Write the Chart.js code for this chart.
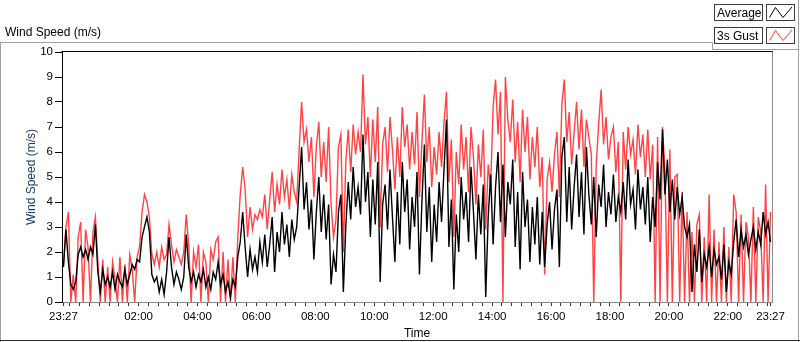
<!DOCTYPE html>
<html>
<head>
<meta charset="utf-8">
<title>Wind Speed</title>
<script src="https://cdn.jsdelivr.net/npm/chart.js@4.4.1/dist/chart.umd.min.js"></script>
<style>
  html, body { margin: 0; padding: 0; background: #fff; }
  #wrap { position: relative; width: 800px; height: 342px; }
</style>
</head>
<body>
<div id="wrap"><canvas id="windChart"></canvas></div>
<script>
// x axis is minutes since the 23:27 start, one reading every 5 minutes
const START_CLOCK = 23 * 60 + 27;
const STEP_MIN = 5;
const SPAN_MIN = 1440;

const AVERAGE = [
  1.4, 2.9, 1.6, 0.7, 0.5, 0.8, 1.9, 2.2,
  1.8, 2.1, 1.7, 2.2, 1.9, 3.1, 1.2, 0.4,
  1.3, 0.7, 1.0, 0.6, 1.2, 0.5, 1.1, 0.8,
  0.6, 1.3, 0.7, 1.1, 1.5, 1.3, 1.7, 1.6,
  2.6, 3.0, 3.4, 2.8, 1.1, 0.8, 1.0, 0.4,
  0.9, 0.3, 1.2, 2.6, 1.4, 0.7, 1.2, 0.9,
  0.5, 1.0, 2.7, 1.4, 0.8, 1.2, 0.6, 1.1,
  0.8, 1.3, 0.6, 1.0, 0.5, 1.2, 0.9, 1.6,
  0.7, 1.1, 0.4, 0.8, 0.2, 0.9, 0.6, 1.8,
  2.4, 3.6, 2.2, 1.0, 2.1, 1.3, 1.8, 1.2,
  2.4, 1.6, 2.7, 1.4, 2.3, 3.4, 1.2, 2.8,
  2.0, 3.6, 2.3, 3.1, 1.8, 3.3, 2.5, 3.0,
  4.6, 6.2, 3.7, 4.8, 2.9, 4.1, 1.7, 3.6,
  5.0, 2.8, 4.3, 2.5, 3.9, 0.7, 1.9, 1.2,
  3.6, 4.3, 0.4, 3.0, 4.8, 3.3, 5.4, 3.8,
  4.6, 3.5, 6.7, 4.0, 5.2, 2.6, 4.9, 3.1,
  5.6, 0.8, 3.9, 4.7, 2.9, 5.3, 3.4, 1.6,
  4.4, 2.3, 5.6, 3.6, 4.9, 2.1, 4.2, 3.0,
  5.2, 1.1, 4.0, 6.3, 2.8, 4.6, 1.6, 3.9,
  2.4, 4.8, 3.2, 5.3, 7.3, 2.2, 4.1, 0.5,
  3.5, 2.0, 5.0, 3.3, 4.4, 2.4, 5.4, 3.6,
  1.7, 4.3, 2.7, 4.7, 0.2, 3.4, 5.1, 2.3,
  4.6, 6.0, 3.2, 5.5, 2.6, 4.8, 3.9, 5.7,
  2.2, 4.4, 1.3, 5.2, 3.0, 4.1, 1.6, 3.8,
  2.3, 4.2, 1.5, 3.6, 1.4, 3.1, 4.0, 2.1,
  3.7, 4.5, 1.4, 5.8, 6.6, 3.2, 5.4, 2.9,
  4.6, 5.9, 3.4, 5.2, 2.7, 6.2, 4.3, 3.1,
  5.0, 2.6, 4.7, 3.8, 5.5, 3.0, 4.4, 3.5,
  5.1, 3.2, 4.2, 3.6, 4.8, 3.3, 5.7, 3.9,
  4.5, 2.9, 5.3, 3.7, 4.6, 3.1, 5.0, 2.4,
  4.2, 3.0, 5.6, 4.1, 6.9, 4.3, 5.7, 3.6,
  4.9, 3.3, 4.6, 3.5, 4.2, 3.0, 2.6, 3.1,
  0.4, 2.3, 1.2, 2.9, 0.8, 1.9, 1.4, 2.2,
  1.0, 2.1, 1.5, 1.8, 0.9, 2.3, 0.4, 1.6,
  1.1, 2.4, 3.3, 1.8, 2.9, 2.2, 2.7, 1.9,
  2.5, 3.0, 2.1, 2.8, 2.3, 3.6, 2.7, 3.2, 2.4
];

const GUST = [
  1.5, 3.0, 3.6, 0, 1.1, 0, 2.6, 3.2,
  0, 2.9, 2.2, 0, 2.8, 3.4, 1.6, 0,
  1.7, 0, 1.4, 0, 1.6, 0.9, 0, 1.8,
  0, 1.5, 0, 1.9, 1.3, 0, 1.8, 2.2,
  3.6, 4.3, 4.0, 3.4, 1.9, 1.5, 2.0, 1.4,
  2.2, 1.7, 1.9, 3.1, 2.3, 1.6, 2.1, 1.8,
  1.5, 2.0, 3.5, 2.3, 0, 2.0, 1.4, 2.3,
  0, 2.0, 1.6, 0, 2.1, 1.7, 2.4, 2.6,
  0, 2.0, 0, 1.7, 0, 1.8, 0, 2.6,
  4.3, 5.4, 4.5, 2.6, 3.8, 2.9, 3.5, 3.3,
  3.7, 3.4, 4.3, 2.9, 4.1, 5.2, 3.6, 4.7,
  3.9, 5.3, 4.2, 4.9, 3.7, 5.1, 4.4, 4.0,
  6.1, 8.0, 6.4, 6.9, 5.6, 6.6, 4.2, 6.2,
  7.2, 5.0, 6.4, 4.8, 7.0, 3.9, 2.6, 3.3,
  6.2, 6.7, 2.0, 5.6, 6.9, 5.2, 7.1, 5.9,
  6.8, 6.0, 9.1, 6.3, 7.4, 5.0, 7.3, 5.6,
  7.8, 3.0, 6.3, 7.0, 5.2, 7.4, 6.1, 4.5,
  6.6, 5.0, 7.8, 6.2, 7.1, 5.3, 6.8, 5.5,
  7.6, 4.2, 6.4, 8.3, 5.6, 7.0, 4.6, 6.2,
  5.1, 6.8, 5.4, 7.2, 8.4, 4.8, 6.5, 2.6,
  6.0, 4.7, 7.1, 5.3, 6.6, 4.4, 7.0, 5.8,
  3.9, 6.3, 5.0, 6.9, 2.9, 5.5, 4.6, 7.8,
  8.9, 6.7, 8.4, 0, 9.0, 7.3, 6.4, 8.1,
  5.6, 7.2, 4.8, 7.7, 6.0, 7.4, 4.9, 6.6,
  5.4, 7.0, 4.6, 5.8, 1.1, 4.9, 5.6, 4.4,
  5.9, 6.8, 4.2, 7.9, 8.9, 6.4, 7.6, 5.5,
  6.8, 8.0, 6.1, 7.7, 5.4, 7.3, 6.6, 5.9,
  0, 5.5, 7.1, 8.5, 6.3, 7.4, 5.7, 6.6,
  7.0, 5.2, 6.4, 0, 6.8, 5.3, 7.0, 5.9,
  6.5, 5.1, 7.1, 5.8, 6.7, 5.0, 6.9, 4.9,
  6.3, 0, 6.6, 0, 7.0, 5.2, 0, 6.1,
  0, 5.0, 5.1, 0, 4.4, 0, 3.6, 0,
  2.8, 0, 3.1, 3.5, 0, 2.6, 0, 4.3,
  0, 2.9, 0, 2.4, 0, 3.0, 0, 2.2,
  0, 4.3, 3.6, 0, 3.5, 0, 3.2, 2.6,
  0, 3.8, 0, 3.4, 2.8, 0, 4.7, 0, 3.6
];

const TIME_LABELS = ['23:27', '02:00', '04:00', '06:00', '08:00', '10:00', '12:00',
  '14:00', '16:00', '18:00', '20:00', '22:00', '23:27'];
const Y_TICKS = [0, 1, 2, 3, 4, 5, 6, 7, 8, 9, 10];

// where each labelled tick sits on the minute axis
const TICK_MINUTES = TIME_LABELS.map((lbl, i) => {
  if (i === TIME_LABELS.length - 1) return SPAN_MIN;
  const [h, m] = lbl.split(':').map(Number);
  return (h * 60 + m - START_CLOCK + 1440) % 1440;
});

const toPoints = arr => arr.map((v, i) => ({ x: i * STEP_MIN, y: v }));

function hline(ctx, x1, x2, y) { ctx.beginPath(); ctx.moveTo(x1, y); ctx.lineTo(x2, y); ctx.stroke(); }
function vline(ctx, x, y1, y2) { ctx.beginPath(); ctx.moveTo(x, y1); ctx.lineTo(x, y2); ctx.stroke(); }

function legendEntry(ctx, y, label, color) {
  ctx.fillStyle = '#fff';
  ctx.fillRect(714, y, 49, 17);
  ctx.fillRect(767, y, 28, 17);
  ctx.strokeStyle = '#3c3c3c';
  ctx.strokeRect(714.5, y + 0.5, 48, 16);
  ctx.strokeRect(766.5, y + 0.5, 28, 16);
  ctx.fillStyle = '#000';
  ctx.textAlign = 'left';
  ctx.textBaseline = 'alphabetic';
  ctx.fillText(label, 717, y + 13);
  ctx.strokeStyle = color;
  ctx.beginPath();
  ctx.moveTo(769.5, y + 13.5);
  ctx.lineTo(775.5, y + 3.5);
  ctx.lineTo(783, y + 13.5);
  ctx.lineTo(792, y + 3);
  ctx.stroke();
}

// LabVIEW style chrome: panel frame, caption, plot box and the legend
const panelDecor = {
  id: 'panelDecor',
  afterDraw(chart) {
    const { ctx, chartArea: a } = chart;
    ctx.save();
    ctx.lineWidth = 1;
    ctx.font = "12px 'Liberation Sans', Arial, sans-serif";

    ctx.strokeStyle = '#a0a0a0';
    hline(ctx, 0, 712.5, 42.5);
    vline(ctx, 712.5, 42.5, 49.5);
    hline(ctx, 712.5, 799, 49.5);
    vline(ctx, 0.5, 42.5, 342);
    vline(ctx, 798.5, 0, 342);
    ctx.strokeStyle = '#2a2a2a';
    hline(ctx, 0, 800, 340.5);

    ctx.fillStyle = '#000';
    ctx.textBaseline = 'alphabetic';
    ctx.fillText('Wind Speed (m/s)', 5, 36);

    ctx.strokeStyle = '#000';
    hline(ctx, a.left - 0.5, a.right + 1, a.top - 0.5);
    ctx.strokeStyle = '#8a8a8a';
    vline(ctx, a.right + 0.5, a.top - 0.5, a.bottom + 1);

    legendEntry(ctx, 4, 'Average', '#000');
    legendEntry(ctx, 27, '3s Gust', '#ff3b3b');
    ctx.restore();
  }
};

Chart.defaults.font.family = "'Liberation Sans', Arial, sans-serif";
Chart.defaults.font.size = 12;
Chart.defaults.color = '#000';

new Chart(document.getElementById('windChart'), {
  type: 'line',
  data: {
    datasets: [
      { label: 'Average', data: toPoints(AVERAGE), borderColor: '#000', borderWidth: 1.4, pointRadius: 0, tension: 0 },
      { label: '3s Gust', data: toPoints(GUST), borderColor: '#ff4242', borderWidth: 1.4, pointRadius: 0, tension: 0 }
    ]
  },
  options: {
    responsive: true,
    maintainAspectRatio: false,
    animation: false,
    events: [],
    layout: { autoPadding: false, padding: { top: 52, right: 28, left: 0, bottom: 0 } },
    plugins: { legend: { display: false }, tooltip: { enabled: false } },
    scales: {
      x: {
        type: 'linear',
        min: -3,
        max: SPAN_MIN + 3,
        afterFit: scale => { scale.height = 40; },
        afterBuildTicks: scale => {
          const ticks = [{ value: 0 }];
          for (let t = 1; t < SPAN_MIN; t++) {
            if ((START_CLOCK + t) % 20 === 0) ticks.push({ value: t });
          }
          ticks.push({ value: SPAN_MIN });
          scale.ticks = ticks;
        },
        ticks: {
          autoSkip: false,
          maxRotation: 0,
          padding: 4,
          color: '#000',
          font: { size: 11.5 },
          callback: value => {
            const i = TICK_MINUTES.indexOf(value);
            return i >= 0 ? TIME_LABELS[i] : '';
          }
        },
        grid: { drawOnChartArea: false, tickLength: 4, color: '#333' },
        border: { color: '#8a8a8a' },
        title: { display: true, text: 'Time', color: '#000', padding: { top: 0, bottom: 1 } }
      },
      y: {
        min: 0,
        max: 10,
        afterFit: scale => { scale.width = 62; },
        afterBuildTicks: scale => { scale.ticks = Y_TICKS.map(v => ({ value: v })); },
        ticks: { padding: 2, color: '#000', font: { size: 11.5 } },
        grid: { drawOnChartArea: false, tickLength: 7, color: '#000' },
        border: { color: '#000' },
        title: { display: true, text: 'Wind Speed (m/s)', color: '#1c3a6b', padding: { top: 24, bottom: 0 } }
      }
    }
  },
  plugins: [panelDecor]
});
</script>
</body>
</html>
